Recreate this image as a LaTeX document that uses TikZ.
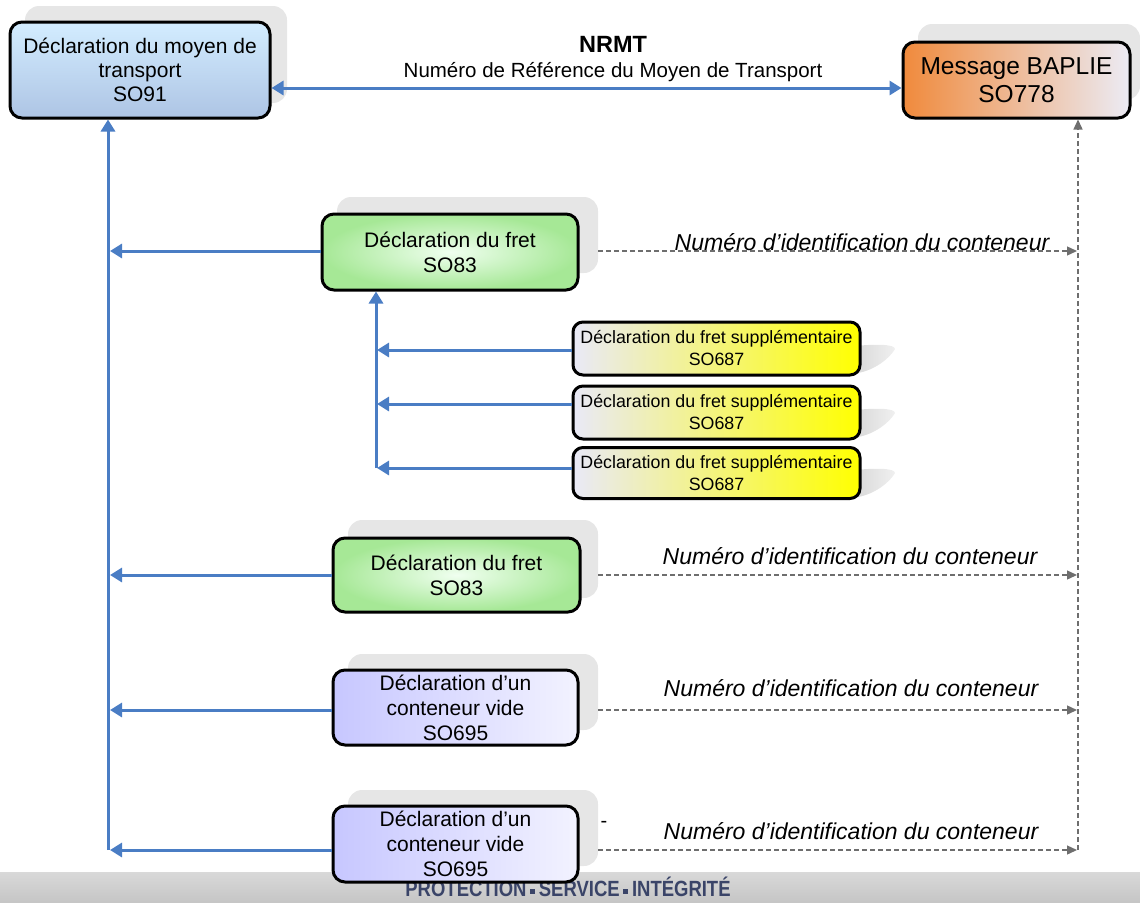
\documentclass[tikz,border=0pt]{standalone}
\usepackage{fontspec}
\setmainfont{Liberation Sans}
\newfontfamily\narrowfont{Liberation Sans}[FakeStretch=0.84]
\usetikzlibrary{arrows.meta}
\definecolor{ablue}{HTML}{4A7DC4}
\definecolor{agray}{HTML}{6E6E6E}
\definecolor{shgray}{HTML}{E6E6E6}
\definecolor{borange}{HTML}{F08A3C}
\definecolor{bgreen}{HTML}{A6E896}
\definecolor{ftext}{HTML}{3A4468}
\tikzset{
  box/.style={draw=black, line width=3pt, rounded corners=12pt, align=center, inner sep=0pt, font=\fontsize{21}{25}\selectfont},
  bluebox/.style={box, top color=blue!8!white!90!cyan, bottom color=ablue!45!white, font=\fontsize{21}{24}\selectfont},
  orangebox/.style={box, left color=borange, right color=blue!4!white!92!gray, font=\fontsize{24.5}{28}\selectfont},
  greenbox/.style={box, inner color=green!6!white, outer color=bgreen},
  yellowbox/.style={box, left color=blue!6!white!94!gray, right color=yellow, font=\fontsize{17.8}{22}\selectfont, rounded corners=10pt},
  lavbox/.style={box, left color=blue!22!white, right color=blue!5!white},
  shadowbox/.style={fill=shgray, rounded corners=14pt},
  barrow/.style={draw=ablue, line width=3pt, -{Triangle[length=12pt,width=14pt]}},
  garrow/.style={draw=agray, line width=1.3pt, dash pattern=on 5pt off 3pt, -{Triangle[length=10pt,width=9pt]}},
  gline/.style={draw=agray, line width=1.3pt, dash pattern=on 5pt off 3pt},
  lbl/.style={font=\fontsize{23}{26}\selectfont\itshape, inner sep=0pt}
}
\newcommand{\sqsep}{\,\raisebox{3pt}{\rule{5pt}{5pt}}\,}
\begin{document}
\begin{tikzpicture}[x=1pt,y=-1pt]
\useasboundingbox (0,0) rectangle (1140,902);
% footer band
\shade[top color=gray!30, bottom color=gray!45] (0,872) rectangle (1140,902);
\node[font=\narrowfont\bfseries\fontsize{22}{24}\selectfont, text=ftext, inner sep=0pt] (footer) at (568,887) {PROTECTION\sqsep SERVICE\sqsep INTÉGRITÉ};
% shadows
\fill[shadowbox] (25,6) rectangle (287,103);
\fill[shadowbox] (918,24) rectangle (1140,100);
\fill[shadowbox] (337,197) rectangle (598,273);
\fill[shadowbox] (348,520) rectangle (598,598);
\fill[shadowbox] (348,654) rectangle (598,730);
\fill[shadowbox] (348,790) rectangle (598,866);
\foreach \yy in {346,410,470}{
  \shade[left color=gray!30, right color=gray!12] (855,\yy) .. controls (875,\yy-2) and (895,\yy-2) .. (895,\yy+3) .. controls (890,\yy+12) and (875,\yy+24) .. (858,\yy+27) -- cycle;
}
% nodes
\node[bluebox, minimum width=260pt, minimum height=96pt] (so91) at (140,70) {Déclaration du moyen de\\transport\\SO91};
\node[orangebox, minimum width=227pt, minimum height=76pt] (baplie) at (1016.5,80) {Message BAPLIE\\SO778};
\node[greenbox, minimum width=256pt, minimum height=76pt] (fa) at (450,252) {Déclaration du fret\\SO83};
\node[yellowbox, minimum width=287pt, minimum height=53pt] (sa) at (716.5,348.5) {Déclaration du fret supplémentaire\\SO687};
\node[yellowbox, minimum width=287pt, minimum height=53pt] (sb) at (716.5,412.5) {Déclaration du fret supplémentaire\\SO687};
\node[yellowbox, minimum width=287pt, minimum height=51pt] (sc) at (716.5,473) {Déclaration du fret supplémentaire\\SO687};
\node[greenbox, minimum width=247pt, minimum height=74pt] (fb) at (456.5,575) {Déclaration du fret\\SO83};
\node[lavbox, minimum width=245pt, minimum height=75pt] (ca) at (455.5,707.5) {Déclaration d’un\\conteneur vide\\SO695};
\node[lavbox, minimum width=245pt, minimum height=76pt] (cb) at (455.5,844) {Déclaration d’un\\conteneur vide\\SO695};
% NRMT
\node[font=\bfseries\fontsize{23.5}{26}\selectfont, inner sep=0pt] (nrmt) at (613,44) {NRMT};
\node[font=\fontsize{20.5}{24}\selectfont, inner sep=0pt] (nrmtl) at (613,72) {Numéro de Référence du Moyen de Transport};
\draw[draw=ablue, line width=3pt, {Triangle[length=12pt,width=14pt]}-{Triangle[length=12pt,width=14pt]}] (so91.east |- 0,88) -- (baplie.west |- 0,88);
% left trunk
\coordinate (lb) at (108,850);
\draw[barrow] (lb) -- (lb |- so91.south);
\foreach \n/\yy in {fa/251, fb/575, ca/710, cb/850}{
  \coordinate (t\n) at (110,\yy);
  \draw[barrow] (\n.west |- 0,\yy) -- (t\n);
}
% secondary trunk
\coordinate (sbot) at (376,468);
\draw[barrow] (sbot) -- (sbot |- fa.south);
\foreach \n/\yy in {sa/350, sb/404, sc/468}{
  \coordinate (u\n) at (377,\yy);
  \draw[barrow] (\n.west |- 0,\yy) -- (u\n);
}
% right trunk
\coordinate (rb) at (1078,850);
\draw[gline, -{Triangle[length=10pt,width=9pt]}] (rb) -- (rb |- baplie.south);
\foreach \yy/\ly/\lx in {251/242/862, 575/556/850, 710/688/851, 850/831/851}{
  \coordinate (s\yy) at (598,\yy);
  \coordinate (e\yy) at (1077,\yy);
  \draw[garrow] (s\yy) -- (e\yy);
  \node[lbl] (l\yy) at (\lx,\ly) {Numéro d’identification du conteneur};
}
\node[font=\fontsize{20}{22}\selectfont, inner sep=0pt] (dash) at (604,824) {-};
\end{tikzpicture}
\end{document}
